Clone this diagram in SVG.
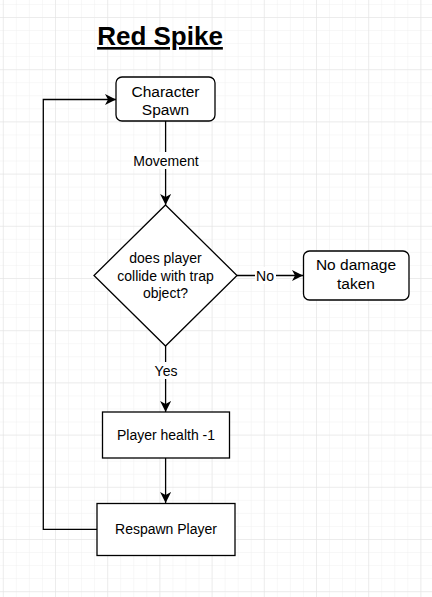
<svg xmlns="http://www.w3.org/2000/svg" width="432" height="597" viewBox="0 0 432 597">
<defs>
<pattern id="minor" x="2.8" y="3.95" width="13.05" height="13.05" patternUnits="userSpaceOnUse">
<path d="M0 0 H13.05 M0 0 V13.05" stroke="#f0f0f0" stroke-width="1" fill="none"/>
</pattern>
<pattern id="major" x="2.8" y="17" width="52.2" height="52.2" patternUnits="userSpaceOnUse">
<path d="M0 0 H52.2 M0 0 V52.2" stroke="#e2e2e2" stroke-width="1" fill="none"/>
</pattern>
<marker id="arr" markerUnits="userSpaceOnUse" markerWidth="12" markerHeight="12" refX="11" refY="5.5" orient="auto">
<path d="M0,0 L11,5.5 L0,11 L3,5.5 Z" fill="#000"/>
</marker>
<style>
.node{fill:#fff;stroke:#000;stroke-width:1.3}
.t{font-family:"Liberation Sans",Arial,sans-serif;fill:#000;text-anchor:middle}
.big{font-size:15.5px}
.sm{font-size:14px}
.edge{fill:none;stroke:#000;stroke-width:1.3}
.lbl{fill:#fff}
</style>
</defs>
<rect width="432" height="597" fill="#fff"/>
<rect width="432" height="597" fill="url(#minor)"/>
<rect width="432" height="597" fill="url(#major)"/>

<g id="title">
<text class="t" x="160" y="45" font-size="26" font-weight="bold" text-decoration="underline">Red Spike</text>
</g>

<g id="connectors">
<path class="edge" d="M97,529.3 H43.3 V99.5 H116" marker-end="url(#arr)"/>
<path class="edge" d="M165.6,121 V205" marker-end="url(#arr)"/>
<rect class="lbl" x="132" y="152" width="68" height="17"/>
<text class="t sm" x="166" y="166">Movement</text>
<path class="edge" d="M237,275.5 H303" marker-end="url(#arr)"/>
<rect class="lbl" x="255" y="267" width="21" height="17"/>
<text class="t sm" x="265" y="280.5">No</text>
<path class="edge" d="M165.6,346 V412" marker-end="url(#arr)"/>
<rect class="lbl" x="153" y="362" width="26" height="17"/>
<text class="t sm" x="166" y="376">Yes</text>
<path class="edge" d="M165.6,458 V503" marker-end="url(#arr)"/>
</g>

<g id="spawn">
<rect class="node" x="116" y="77" width="99" height="44" rx="6"/>
<text class="t big" x="165.5" y="96.5">Character</text>
<text class="t big" x="165.5" y="115">Spawn</text>
</g>

<g id="decision">
<polygon class="node" points="165.5,205 237,275.5 165.5,346 94,275.5"/>
<text class="t sm" x="165.5" y="262.5">does player</text>
<text class="t sm" x="165.5" y="280.5">collide with trap</text>
<text class="t sm" x="165.5" y="297.5">object?</text>
</g>

<g id="nodamage">
<rect class="node" x="303.5" y="251" width="105.5" height="49" rx="6"/>
<text class="t big" x="356" y="269.5">No damage</text>
<text class="t big" x="356" y="288.5">taken</text>
</g>

<g id="health">
<rect class="node" x="102.5" y="412" width="127" height="46"/>
<text class="t sm" x="166" y="440">Player health -1</text>
</g>

<g id="respawn">
<rect class="node" x="97" y="503.5" width="138" height="52"/>
<text class="t sm" x="166" y="534">Respawn Player</text>
</g>
</svg>
